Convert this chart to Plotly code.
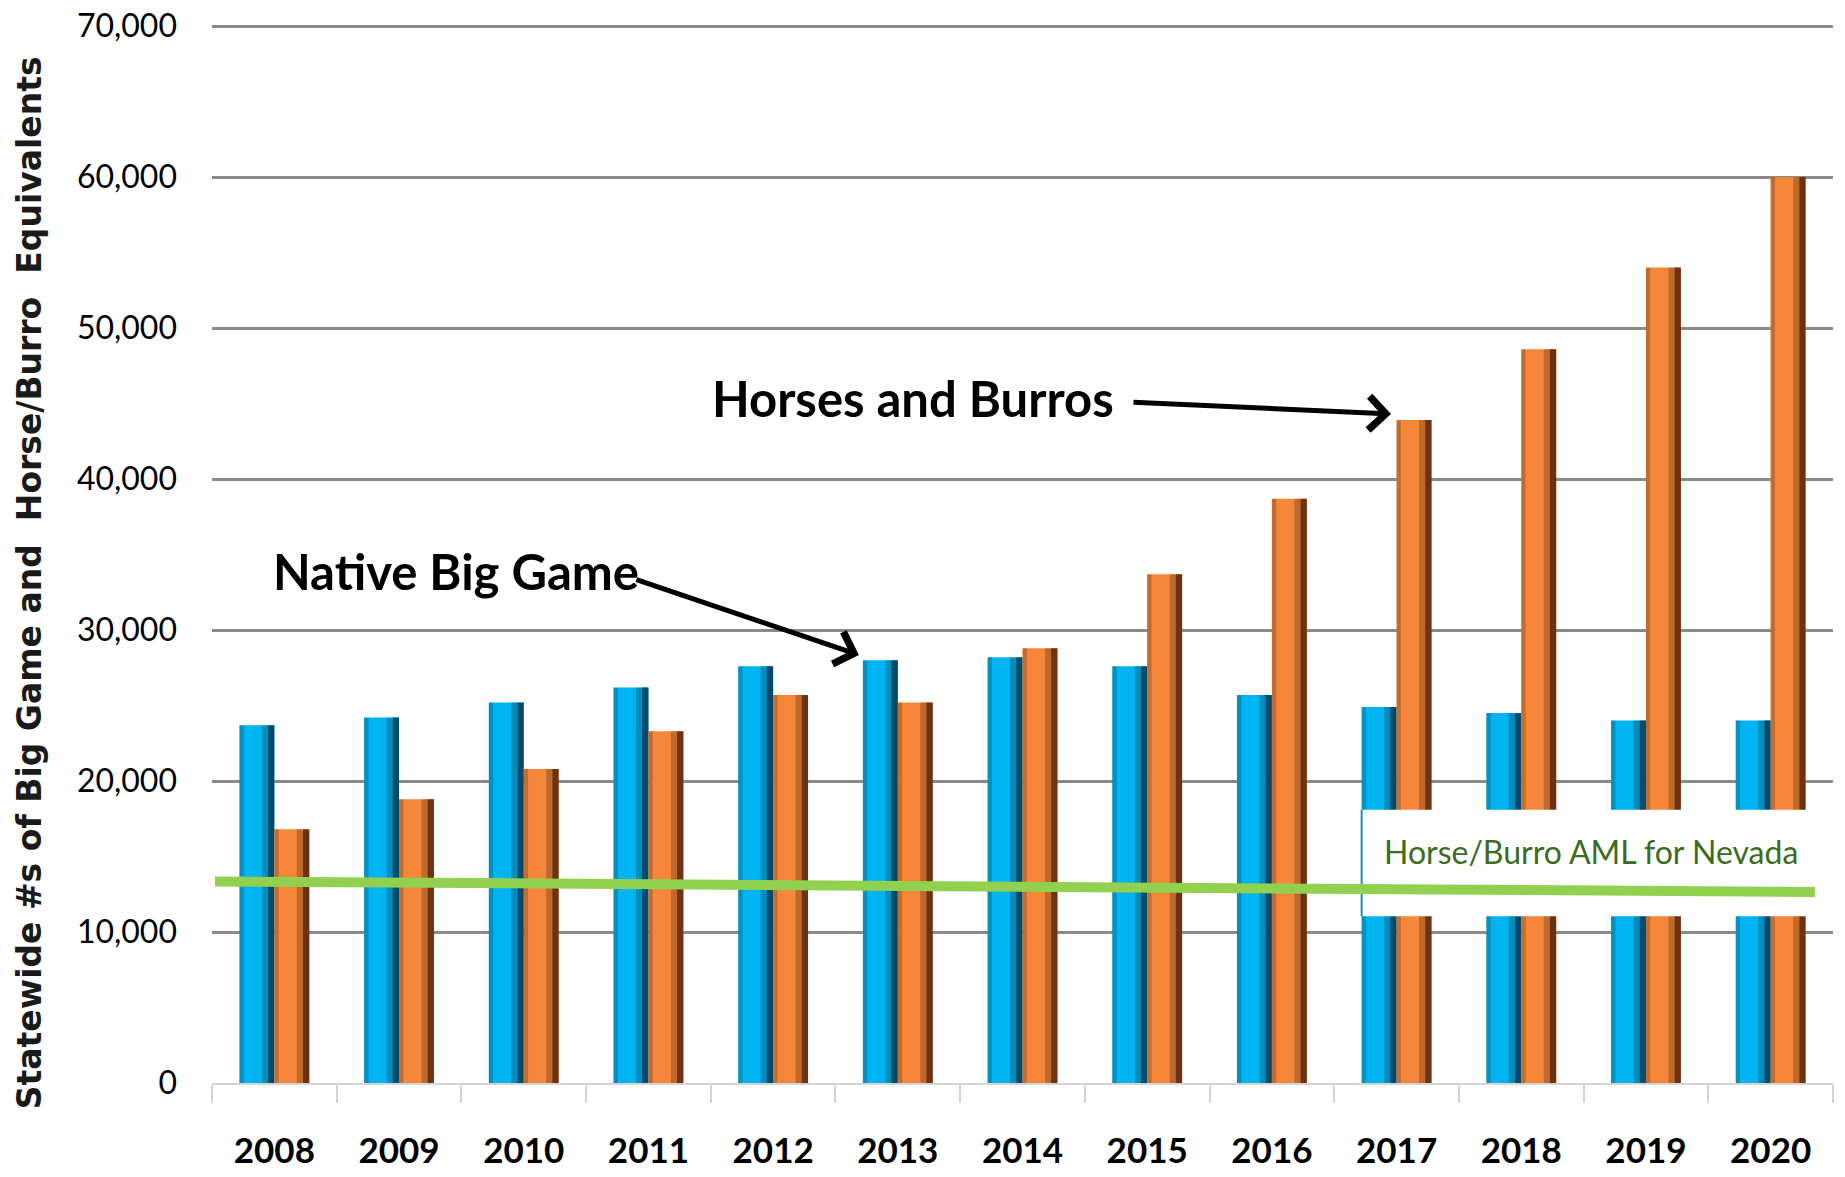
import plotly.graph_objects as go

years = ["2008", "2009", "2010", "2011", "2012", "2013", "2014",
         "2015", "2016", "2017", "2018", "2019", "2020"]
big_game = [23700, 24200, 25200, 26200, 27600, 28000, 28200,
            27600, 25700, 24900, 24500, 24000, 24000]
horses_burros = [16800, 18800, 20800, 23300, 25700, 25200, 28800,
                 33700, 38700, 43900, 48600, 54000, 60000]
aml_line = [13350, 12650]          # AML level at left / right end of the line
y_ticks = [0, 10000, 20000, 30000, 40000, 50000, 60000, 70000]
y_tick_text = ["0", "10,000", "20,000", "30,000", "40,000", "50,000", "60,000", "70,000"]

BLUE = "#00b4f2"
ORANGE = "#f6873a"
GREEN = "#92d050"
FONT = "Lato"

BW = 0.28  # bar width (category units)

fig = go.Figure()

def add_bar(vals, color, offset, dark):
    fig.add_trace(go.Bar(x=years, y=vals, width=BW, offset=offset,
                         marker=dict(color=color, line=dict(width=0)),
                         showlegend=False, hoverinfo="y"))
    fig.add_trace(go.Bar(x=years, y=vals, width=0.035, offset=offset,
                         marker=dict(color="rgba(0,0,0,0.2)", line=dict(width=0)),
                         showlegend=False, hoverinfo="skip"))
    fig.add_trace(go.Bar(x=years, y=vals, width=0.1, offset=offset + BW - 0.1,
                         marker=dict(color="rgba(0,0,0,0.22)", line=dict(width=0)),
                         showlegend=False, hoverinfo="skip"))
    fig.add_trace(go.Bar(x=years, y=vals, width=0.05, offset=offset + BW - 0.05,
                         marker=dict(color=dark, line=dict(width=0)),
                         showlegend=False, hoverinfo="skip"))

add_bar(big_game, BLUE, -BW, "rgba(0,30,50,0.6)")
add_bar(horses_burros, ORANGE, 0.0, "rgba(50,15,0,0.6)")

shapes = [
    dict(type="rect", xref="x", yref="y", x0=9 - BW, x1=12.7, y0=11050, y1=18100,
         fillcolor="white", line=dict(width=0), layer="above"),
    dict(type="line", xref="x", yref="y", x0=9 - BW, x1=9 - BW, y0=11050, y1=18100,
         line=dict(color="#1a8fc4", width=2), layer="above"),
    dict(type="line", xref="x", yref="y", x0=-0.476, x1=12.355,
         y0=aml_line[0], y1=aml_line[1],
         line=dict(color=GREEN, width=10), layer="above"),
]

annotations = [
    dict(text="Horse/Burro AML for Nevada", xref="x", yref="y", x=10.56, y=15300,
         showarrow=False, font=dict(family=FONT, size=32, color="#3d6b21"),
         xanchor="center", yanchor="middle"),
    dict(text="<b>Horses and Burros</b>", xref="x", yref="y", x=5.12, y=45360,
         showarrow=False, font=dict(family=FONT, size=49, color="black"),
         xanchor="center", yanchor="middle"),
    dict(text="<b>Native Big Game</b>", xref="x", yref="y", x=1.457, y=33900,
         showarrow=False, font=dict(family=FONT, size=49, color="black"),
         xanchor="center", yanchor="middle"),
    dict(text="", xref="x", yref="y", x=8.955, y=44300, ax=-259, ay=-12,
         showarrow=True, arrowhead=4, arrowsize=1.3, arrowwidth=5, arrowcolor="black"),
    dict(text="", xref="x", yref="y", x=4.688, y=28340, ax=-224, ay=-76,
         showarrow=True, arrowhead=4, arrowsize=1.3, arrowwidth=5, arrowcolor="black"),
    dict(text="<b>Statewide #s of Big Game and &nbsp;Horse/Burro &nbsp;Equivalents</b>",
         xref="paper", yref="paper", x=-0.1125, y=0.472, textangle=-90,
         showarrow=False, borderpad=0,
         font=dict(family="DejaVu Sans", size=33, color="#1a1a1a"),
         xanchor="center", yanchor="middle"),
]

fig.update_layout(
    width=1845, height=1177,
    margin=dict(l=212, r=12, t=23, b=94, autoexpand=False),
    paper_bgcolor="white", plot_bgcolor="white",
    barmode="overlay",
    shapes=shapes,
    annotations=annotations,
    xaxis=dict(type="category", categoryorder="array", categoryarray=years,
               range=[-0.5, 12.5], showline=True, linecolor="#d4d4d4", linewidth=2,
               ticks="outside", tickson="boundaries", ticklen=18, tickwidth=2,
               tickcolor="#d4d4d4", showgrid=False, ticklabelstandoff=36,
               automargin=False,
               tickfont=dict(family=FONT, size=35, color="black", weight="bold")),
    yaxis=dict(range=[0, 70200], tickvals=y_ticks, ticktext=y_tick_text,
               showgrid=True, gridcolor="#8a8a8a", gridwidth=3,
               zeroline=False, showline=False, ticks="",
               ticklabelstandoff=34, ticklabeloverflow="allow", automargin=False,
               tickfont=dict(family=FONT, size=32, color="black")),
)

fig.write_html("out.html",
               config={"displayModeBar": False},
               post_script="document.body.style.margin='0px';document.body.style.overflow='hidden';")
